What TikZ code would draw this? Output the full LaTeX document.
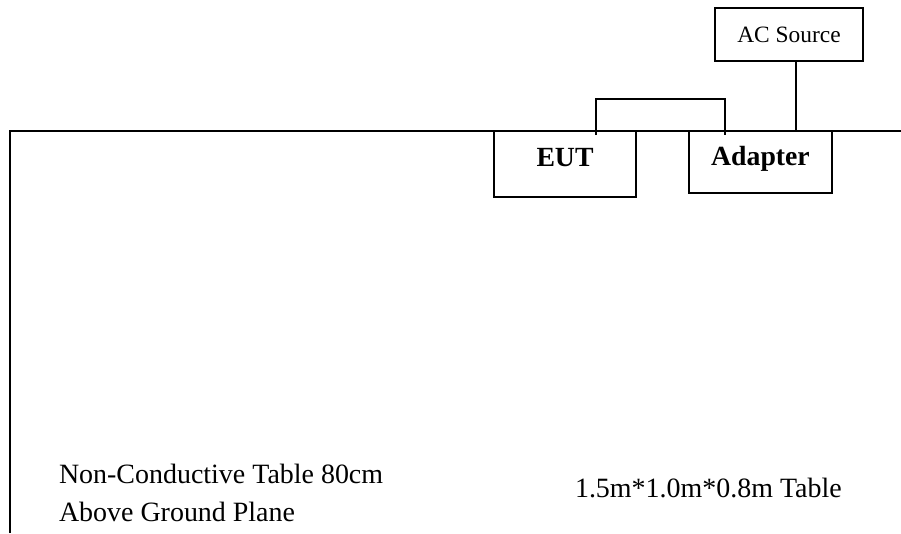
\documentclass[tikz,border=0pt]{standalone}
\usepackage{fontspec}
\setmainfont{Liberation Serif}
\begin{document}
\begin{tikzpicture}[x=0.44pt,y=-0.44pt,line width=0.9pt,
    unit/.style={draw,inner sep=0pt,font=\fontsize{12.2}{14}\selectfont\bfseries,text depth=5.5pt},
    src/.style={draw,inner sep=0pt,font=\fontsize{10.3}{12}\selectfont},
    note/.style={inner sep=0pt,font=\fontsize{12.3}{16.9}\selectfont,align=left}]
  \useasboundingbox (0,0) rectangle (901,533);
  %\draw [help lines] (0,0) grid (901,533);
  \coordinate (tl) at (10,131);
  \coordinate (tr) at (901,131);
  \coordinate (bl) at (10,533);
  \node[unit,minimum width=62.5pt,minimum height=29pt] (eut) at (565,164) {EUT};
  \node[unit,minimum width=62.9pt,minimum height=27.3pt] (adapter) at (760.5,162) {Adapter};
  \node[src,minimum width=65.1pt,minimum height=23.3pt] (ac) at (789,34.5) {AC Source};
  \node[note,anchor=base west] (tablenote) at (58,521.5) {Non-Conductive Table 80cm\\Above Ground Plane};
  \node[note,anchor=base west] (tablesize) at (574,497) {1.5m*1.0m*0.8m Table};

  \draw (bl) -- (tl) -- (tr);
  \draw ([xshift=13.6pt,yshift=-2.2pt]eut.north) -- ++(0,-36) -| ([xshift=-15.6pt,yshift=-2.2pt]adapter.north);
  \draw ([xshift=3pt]ac.south) -- ([xshift=3pt]ac.south |- tl);
\end{tikzpicture}
\end{document}
